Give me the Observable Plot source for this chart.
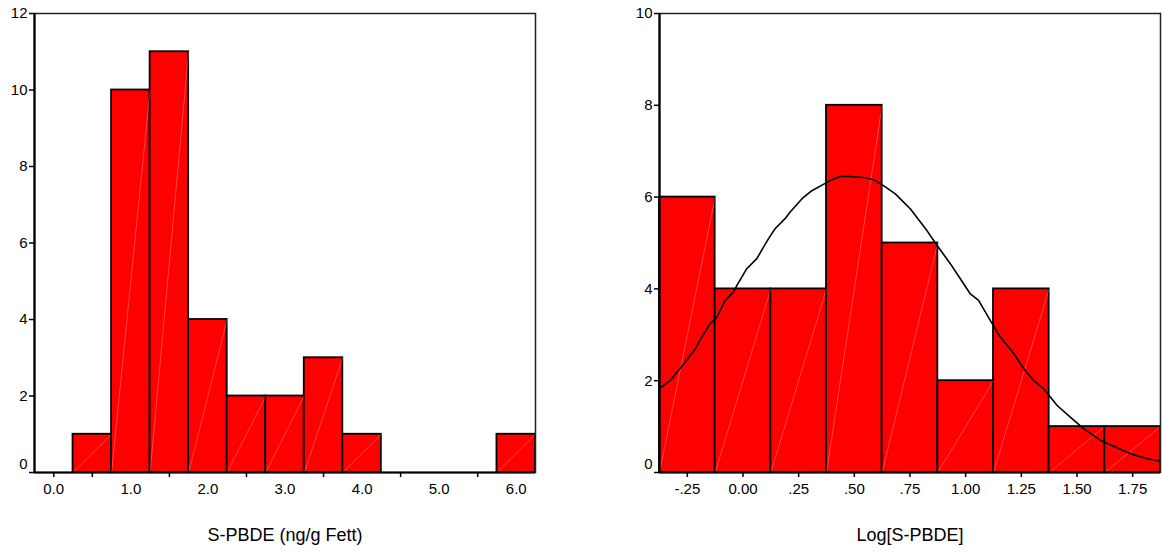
<!DOCTYPE html>
<html><head><meta charset="utf-8">
<script src="https://cdn.jsdelivr.net/npm/d3@7"></script>
<script src="https://cdn.jsdelivr.net/npm/@observablehq/plot@0.6"></script>
<style>
body{margin:0;background:#fff;font-family:"Liberation Sans",Arial,sans-serif;}
#wrap{display:flex;width:1162px;height:554px;overflow:hidden;}
</style></head><body><div id="wrap"></div>
<script>
// ---- Left histogram: S-PBDE (ng/g Fett)
const leftBinStart = [0.25, 0.75, 1.25, 1.75, 2.25, 2.75, 3.25, 3.75, 4.25, 4.75, 5.25, 5.75];
const leftCounts   = [1, 10, 11, 4, 2, 2, 3, 1, 0, 0, 0, 1];
const leftBinWidth = 0.5;
const leftXTickMarks = [0, 0.5, 1.5, 2.5, 3.5, 4.5, 5.5];
const leftXLabels = [0, 1, 2, 3, 4, 5, 6];
const leftYTicks = [0, 2, 4, 6, 8, 10, 12];
const leftTitle = "S-PBDE (ng/g Fett)";

// ---- Right histogram: Log[S-PBDE]
const rightBinCenter = [-0.25, 0, 0.25, 0.5, 0.75, 1.0, 1.25, 1.5, 1.75];
const rightCounts    = [6, 4, 4, 8, 5, 2, 4, 1, 1];
const rightBinWidth  = 0.25;
const rightXTicks = [-0.25, 0, 0.25, 0.5, 0.75, 1.0, 1.25, 1.5, 1.75];
const rightXLabels = ["-.25", "0.00", ".25", ".50", ".75", "1.00", "1.25", "1.50", "1.75"];
const rightYTicks = [0, 2, 4, 6, 8, 10];
const rightTitle = "Log[S-PBDE]";

// normal curve
const curveX = [-0.373, -0.328, -0.260, -0.215, -0.185, -0.148, -0.118, -0.080, -0.043, -0.028, 0.017, 0.062, 0.114, 0.144, 0.189, 0.211, 0.264, 0.309, 0.369, 0.399, 0.436, 0.481, 0.549, 0.586, 0.631, 0.684, 0.752, 0.826, 0.871, 0.931, 0.976, 1.021, 1.058, 1.111, 1.156, 1.216, 1.261, 1.306, 1.351, 1.411, 1.471, 1.531, 1.606, 1.665, 1.740, 1.816, 1.868];
const curveY = [1.84, 2.00, 2.40, 2.69, 2.95, 3.24, 3.38, 3.75, 3.93, 4.07, 4.44, 4.66, 5.09, 5.31, 5.53, 5.67, 5.96, 6.14, 6.30, 6.38, 6.45, 6.45, 6.42, 6.38, 6.25, 6.07, 5.74, 5.27, 4.95, 4.55, 4.22, 3.89, 3.75, 3.31, 2.95, 2.59, 2.26, 2.00, 1.82, 1.46, 1.20, 0.95, 0.70, 0.57, 0.41, 0.30, 0.25];

const leftBins = leftBinStart.map((s, i) => ({x1: s, x2: s + leftBinWidth, count: leftCounts[i]})).filter(d => d.count > 0);
const rightBins = rightBinCenter.map((c, i) => ({x1: c - rightBinWidth / 2, x2: c + rightBinWidth / 2, count: rightCounts[i]})).filter(d => d.count > 0);
const curve = curveX.map((x, i) => ({x, y: curveY[i]}));

const font = "'Liberation Sans', Arial, sans-serif";
const style = {fontFamily: font, fontSize: "15px", color: "#000", background: "#fff", overflow: "visible"};

function histMarks(bins, xDomain, yTicks, title) {
  return [
    Plot.rectY(bins, {x1: "x1", x2: "x2", y: "count", fill: "#ff0000", stroke: "#000", strokeWidth: 1.8, inset: 0}),
    Plot.link(bins, {x1: "x1", y1: 0, x2: "x2", y2: "count", stroke: "#fff", strokeOpacity: 0.45, strokeWidth: 0.6}),
    Plot.frame({stroke: "#222", strokeWidth: 1.5}),
    Plot.ruleX([xDomain[0]], {stroke: "#000", strokeWidth: 2.2}),
    Plot.ruleY([0], {stroke: "#000", strokeWidth: 2.2}),
    Plot.axisY(yTicks, {tickSize: 5, tickPadding: 2, strokeWidth: 1.5, tickFormat: d => d === 0 ? "" : String(d), label: null}),
    Plot.axisY([0], {tickSize: 0, tickPadding: 7, dy: -8, tickFormat: d => String(d), label: null}),
    Plot.text([title], {frameAnchor: "bottom", dy: 68, fontSize: 18, fill: "#000"})
  ];
}

const leftPlot = Plot.plot({
  width: 580, height: 554,
  marginLeft: 34, marginRight: 45, marginTop: 13, marginBottom: 82,
  style,
  x: {domain: [-0.25, 6.25]},
  y: {domain: [0, 12]},
  marks: [
    ...histMarks(leftBins, [-0.25, 6.25], leftYTicks, leftTitle),
    Plot.axisX(leftXTickMarks, {tickSize: 5, strokeWidth: 1.5, tickFormat: () => "", label: null}),
    Plot.axisX(leftXLabels, {tickSize: 0, tickPadding: 11, tickFormat: d3.format(".1f"), label: null})
  ]
});

const rightPlot = Plot.plot({
  width: 582, height: 554,
  marginLeft: 79, marginRight: 2, marginTop: 13, marginBottom: 82,
  style,
  x: {domain: [-0.375, 1.875]},
  y: {domain: [0, 10]},
  marks: [
    ...histMarks(rightBins, [-0.375, 1.875], rightYTicks, rightTitle),
    Plot.line(curve, {x: "x", y: "y", stroke: "#000", strokeWidth: 1.6}),
    Plot.axisX(rightXTicks, {tickSize: 5, strokeWidth: 1.5, tickPadding: 6, tickFormat: (d, i) => rightXLabels[i], label: null})
  ]
});

const wrap = document.getElementById("wrap");
wrap.appendChild(leftPlot);
wrap.appendChild(rightPlot);
</script>
</body></html>
